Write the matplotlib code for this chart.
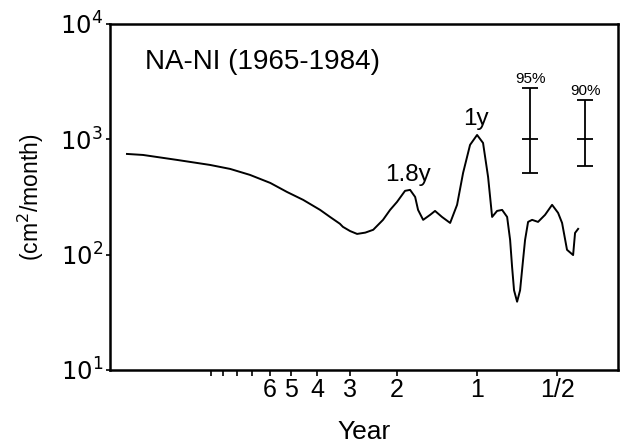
import numpy as np
import matplotlib
matplotlib.use("Agg")
import matplotlib.pyplot as plt
from matplotlib.ticker import FixedLocator, NullLocator, FixedFormatter

plt.rcParams['font.family'] = ['Liberation Sans', 'DejaVu Sans']

# spectrum: frequency (cycles/year) and power (cm^2/month)
freq = [0.0483, 0.0555, 0.0745, 0.0991, 0.118, 0.140, 0.167, 0.193, 0.222, 0.257,
        0.280, 0.305, 0.313, 0.333, 0.354, 0.380, 0.407, 0.443, 0.471, 0.500,
        0.536, 0.560, 0.585, 0.600, 0.627, 0.666, 0.695, 0.738, 0.792, 0.841,
        0.886, 0.941, 1.000, 1.053, 1.100, 1.139, 1.189, 1.242, 1.297, 1.331,
        1.354, 1.377, 1.414, 1.451, 1.489, 1.515, 1.555, 1.610, 1.695, 1.801,
        1.914, 2.016, 2.087, 2.178, 2.296, 2.335, 2.398]
power = [746, 731, 662, 599, 553, 491, 418, 349, 298, 244,
         212, 185, 174, 160, 151, 155, 164, 200, 244, 286,
         357, 364, 316, 244, 200, 221, 239, 212, 188, 270,
         511, 894, 1090, 929, 471, 212, 239, 244, 212, 134,
         78, 49, 39, 49, 90, 134, 192, 200, 192, 221,
         270, 230, 188, 110, 99, 154, 167]

# confidence bars: frequency, centre, low, high
ci_names = ['95%', '90%']
ci_freq = [1.582, 2.547]
ci_mid = [1000, 1000]
ci_low = [511, 587]
ci_high = [2786, 2193]

period_ticks = [3, 2, 1, 0.5]
period_labels = ['3', '2', '1', '1/2']
minor_periods = [10, 9, 8, 7, 6, 5, 4]
minor_labels = ['', '', '', '', '6', '5', '4']

fig = plt.figure(figsize=(6.25, 4.44), dpi=100)
ax = fig.add_axes([0.176, 0.167, 0.813, 0.779])

ax.plot(freq, power, color='black', lw=1.4)

for name, f, m, lo, hi in zip(ci_names, ci_freq, ci_mid, ci_low, ci_high):
    ax.errorbar([f], [m], yerr=[[m - lo], [hi - m]], fmt='none', ecolor='black',
                elinewidth=1.3, capsize=6, capthick=1.3)
    ax.plot([f], [m], marker='_', ms=12, mew=1.3, color='black')
    ax.text(f, hi * 1.04, name, ha='center', va='bottom', fontsize=11)

ax.set_xscale('log')
ax.set_yscale('log')
ax.set_xlim(0.0417, 3.39)
ax.set_ylim(10, 1e4)

ax.xaxis.set_major_locator(FixedLocator([1 / p for p in period_ticks]))
ax.set_xticklabels(period_labels)
ax.xaxis.set_minor_locator(FixedLocator([1 / p for p in minor_periods]))
ax.xaxis.set_minor_formatter(FixedFormatter(minor_labels))

ax.yaxis.set_major_locator(FixedLocator([10, 100, 1000, 10000]))
ax.yaxis.set_minor_locator(NullLocator())
ax.set_yticklabels(['$10^1$', '$10^2$', '$10^3$', '$10^4$'])

ax.tick_params(axis='x', which='both', direction='out', length=4, width=1.2,
               labelsize=18, pad=2)
ax.tick_params(axis='y', direction='out', length=3, width=1.2, labelsize=17.5, pad=2)
for s in ax.spines.values():
    s.set_linewidth(1.8)

ax.set_xlabel('Year', fontsize=19, labelpad=13)
ax.set_ylabel('(cm$^2$/month)', fontsize=16.5, labelpad=10)

ax.text(0.068, 0.89, 'NA-NI (1965-1984)', transform=ax.transAxes, fontsize=20,
        ha='left', va='center')
ax.text(0.55, 390, '1.8y', ha='center', va='bottom', fontsize=17.5)
ax.text(0.99, 1200, '1y', ha='center', va='bottom', fontsize=17.5)

fig.savefig('out.png', dpi=100)
